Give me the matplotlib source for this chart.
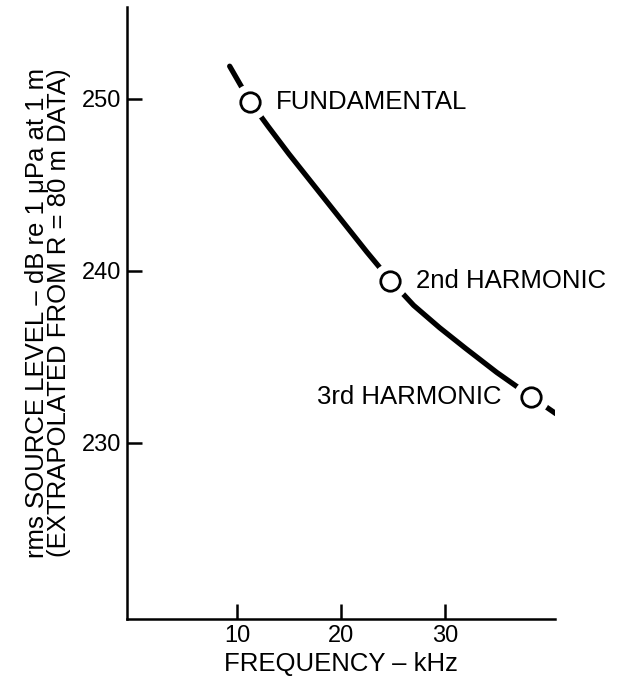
import matplotlib
matplotlib.use("Agg")
import matplotlib.pyplot as plt

plt.rcParams['font.family'] = ['Liberation Sans', 'DejaVu Sans']

# curve (kHz, dB)
curve_f = [9.3, 10.3, 11.25, 13.0, 15.0, 17.5, 20.0, 22.5, 24.7, 27.0, 29.5, 32.0, 35.0, 38.3, 40.7]
curve_db = [251.9, 250.85, 249.85, 248.4, 246.8, 244.9, 243.0, 241.1, 239.5, 238.0, 236.7, 235.5, 234.1, 232.7, 231.7]

# the three measured points
pt_f = [11.25, 24.7, 38.3]
pt_db = [249.8, 239.4, 232.7]
pt_names = ["FUNDAMENTAL", "2nd HARMONIC", "3rd HARMONIC"]

xticks = [10, 20, 30]
yticks = [230, 240, 250]

fig = plt.figure(figsize=(6.18, 6.86), dpi=100)
ax = fig.add_axes([0.2055, 0.0977, 0.898 - 0.2055, 0.99 - 0.0977])

ax.plot(curve_f, curve_db, color='black', lw=3.8, solid_capstyle='round',
        solid_joinstyle='round', zorder=2)
# white halo so the line stops short of each circle
ax.plot(pt_f, pt_db, 'o', ms=26, color='white', mec='none', zorder=3)
ax.plot(pt_f, pt_db, 'o', ms=14, mfc='white', mec='black', mew=2.0, zorder=4)

ax.text(pt_f[0] + 2.5, pt_db[0], pt_names[0], fontsize=18.5, va='center', ha='left')
ax.text(pt_f[1] + 2.5, pt_db[1], pt_names[1], fontsize=18.5, va='center', ha='left')
ax.text(pt_f[2] - 2.8, pt_db[2], pt_names[2], fontsize=18.5, va='center', ha='right')

ax.set_xlim(-0.58, 40.6)
ax.set_ylim(219.77, 255.35)
ax.set_xticks(xticks)
ax.set_yticks(yticks)
ax.tick_params(direction='in', length=11, width=1.8, labelsize=17, pad=4)
for s in ['top', 'right']:
    ax.spines[s].set_visible(False)
for s in ['left', 'bottom']:
    ax.spines[s].set_linewidth(1.8)

ax.set_xlabel("FREQUENCY – kHz", fontsize=18.5, labelpad=4)
ax.set_ylabel("rms SOURCE LEVEL – dB re 1 μPa at 1 m\n(EXTRAPOLATED FROM R = 80 m DATA)",
              fontsize=18.5, labelpad=8, linespacing=0.9)

fig.savefig("out.png", dpi=100)
